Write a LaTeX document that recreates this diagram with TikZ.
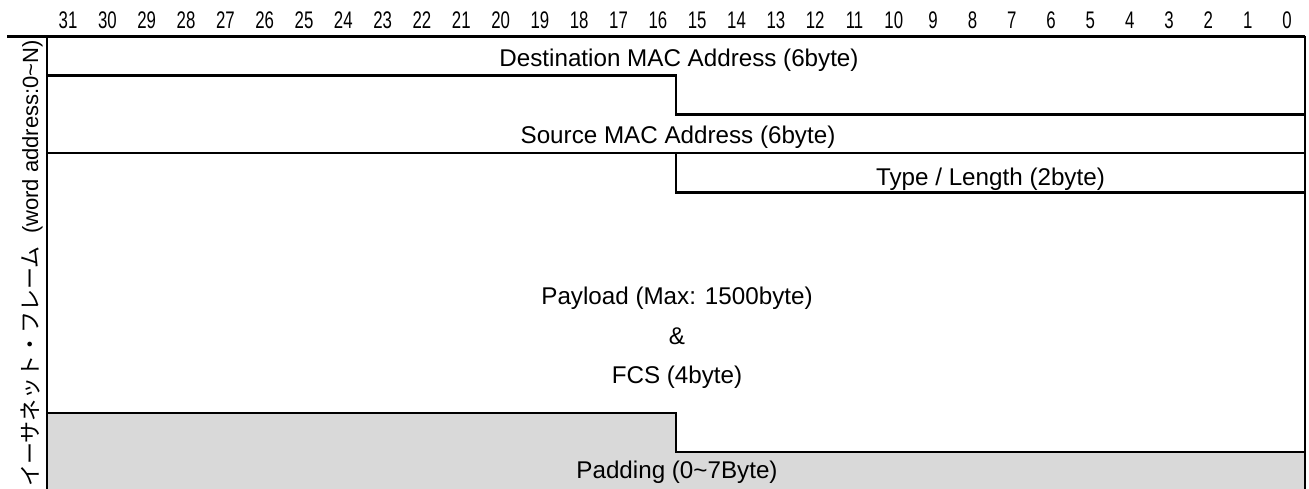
\documentclass[tikz,border=0pt]{standalone}
\usepackage{fontspec}
\setmainfont{Liberation Sans}
\newfontfamily\jpfont{Noto Sans CJK JP}
\newfontfamily\narrowfont[FakeStretch=0.7]{Liberation Sans}
\begin{document}
\begin{tikzpicture}[x=1pt,y=-1pt,
  field/.style={anchor=base, inner sep=0pt, font=\fontsize{24.2}{28}\selectfont},
  bitnum/.style={anchor=base, inner sep=0pt, font=\narrowfont\fontsize{24}{28}\selectfont},
  rule/.style={line width=2.2pt}]
\useasboundingbox (0,0) rectangle (1309,489);
\coordinate (tl) at (47,36.5);
\coordinate (tr) at (1305,36.5);
\coordinate (bl) at (47,489);
\coordinate (br) at (1305,489);
% padding area
\fill[gray!30] (47,413.3) -- (676,413.3) -- (676,452.3) -- (1305,452.3) -- (br) -- (bl) -- cycle;
% bit numbers
\foreach \b in {0,...,31}
  \node[bitnum] (bit\b) at ({1287-39.32*\b},28.5) {\b};
% frame
\draw[rule] (7,36.5) -- (tr);
\draw[rule] (tl) -- (bl);
\draw[rule] (tr) -- (br);
\draw[rule] (47,75.5) -- (676,75.5) -- (676,114.5) -- (1305,114.5);
\draw[rule] (47,153.3) -- (1305,153.3);
\draw[rule] (676,153.3) -- (676,192.5) -- (1305,192.5);
\draw[rule] (47,413.3) -- (676,413.3) -- (676,452.3) -- (1305,452.3);
% fields
\node[field] (dst) at (679,66.5) {Destination MAC Address (6byte)};
\node[field] (src) at (678,143.5) {Source MAC Address (6byte)};
\node[field] (type) at (990.5,186) {Type / Length (2byte)};
\node[field] (pay) at (677,304.5) {Payload (Max: 1500byte)};
\node[field] (amp) at (677,344.5) {\&};
\node[field] (fcs) at (677,383.5) {FCS (4byte)};
\node[field] (pad) at (677,478.5) {Padding (0\textasciitilde 7Byte)};
% word address
\node[field, rotate=90, font=\fontsize{22}{26}\selectfont] (frame) at (38,263.5)
  {{\jpfont イーサネット・フレーム}\ \ (word address:0\textasciitilde N)};
\end{tikzpicture}
\end{document}
